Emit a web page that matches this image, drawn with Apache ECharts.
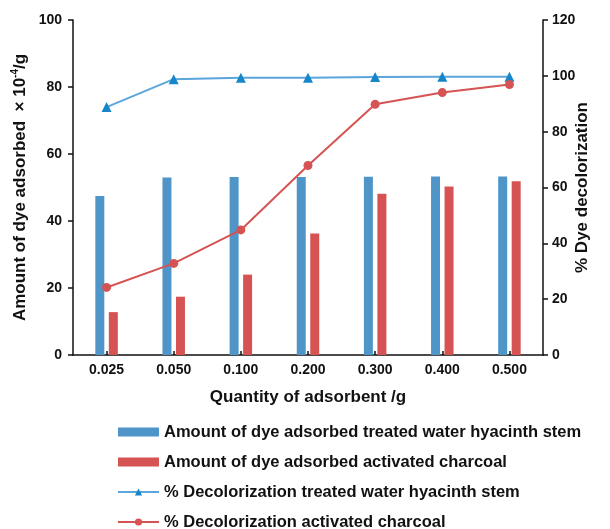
<!DOCTYPE html>
<html>
<head>
<meta charset="utf-8">
<script src="https://cdn.jsdelivr.net/npm/echarts@6/dist/echarts.min.js"></script>
<style>
    html, body { margin: 0; padding: 0; background: #fff; }
    #chart { width: 610px; height: 529px; }
</style>
</head>
<body>
<div id="chart"></div>
<script>
    // adsorbent quantity (g)
    var categories = ['0.025', '0.050', '0.100', '0.200', '0.300', '0.400', '0.500'];
    // amount of dye adsorbed, x 10^-4 /g
    var adsorbedStem = [47.5, 53.0, 53.1, 53.1, 53.2, 53.3, 53.3];
    var adsorbedCharcoal = [12.8, 17.4, 24.0, 36.3, 48.1, 50.3, 51.9];
    // % decolorization
    var decolorStem = [88.8, 98.8, 99.3, 99.3, 99.6, 99.7, 99.7];
    var decolorCharcoal = [24.2, 32.8, 44.8, 67.9, 89.8, 94.0, 96.9];

    var font = 'Liberation Sans, Arial, sans-serif';
    var labelStyle = { color: '#111', fontWeight: 'bold', fontSize: 14, fontFamily: font };
    var nameStyle = { color: '#111', fontWeight: 'bold', fontSize: 17, fontFamily: font };
    var axisLine = { show: true, lineStyle: { color: '#111', width: 1.5 } };
    var outTick = { show: true, inside: false, length: 5, lineStyle: { color: '#111', width: 1.5 } };

    var chart = echarts.init(document.getElementById('chart'));
    chart.setOption({
        animation: false,
        grid: {
            left: 73,
            right: 67,
            top: 20,
            bottom: 174
        },
        legend: {
            orient: 'vertical',
            left: 117,
            top: 423,
            height: 150,
            padding: 0,
            itemWidth: 41,
            itemHeight: 9,
            itemGap: 12,
            textStyle: { color: '#111', fontWeight: 'bold', fontSize: 16.5, fontFamily: font, lineHeight: 18 },
            data: [
                { name: 'Amount of dye adsorbed treated water hyacinth stem', icon: 'rect' },
                { name: 'Amount of dye adsorbed activated charcoal', icon: 'rect' },
                '% Decolorization treated water hyacinth stem',
                '% Decolorization activated charcoal'
            ]
        },
        xAxis: {
            type: 'category',
            data: categories,
            boundaryGap: true,
            name: 'Quantity of adsorbent /g',
            nameLocation: 'middle',
            nameGap: 34,
            nameMoveOverlap: false,
            nameTextStyle: nameStyle,
            axisLine: axisLine,
            axisTick: { show: true, inside: true, alignWithLabel: true, length: 4, lineStyle: { color: '#111', width: 1.5 } },
            axisLabel: Object.assign({ margin: 8 }, labelStyle),
            splitLine: { show: false }
        },
        yAxis: [
            {
                type: 'value',
                min: 0,
                max: 100,
                interval: 20,
                name: '{n|Amount of dye adsorbed  × 10}{s|-4}{n|/g}',
                nameLocation: 'middle',
                nameRotate: 90,
                nameGap: 42,
                nameMoveOverlap: false,
                nameTextStyle: {
                    rich: {
                        n: Object.assign({ lineHeight: 22 }, nameStyle),
                        s: { color: '#111', fontWeight: 'bold', fontSize: 10, fontFamily: font, lineHeight: 22, padding: [0, 0, 9, 0] }
                    }
                },
                axisLine: axisLine,
                axisTick: outTick,
                axisLabel: Object.assign({ margin: 11 }, labelStyle),
                splitLine: { show: false }
            },
            {
                type: 'value',
                min: 0,
                max: 120,
                interval: 20,
                position: 'right',
                name: '% Dye decolorization',
                nameLocation: 'middle',
                nameRotate: 90,
                nameGap: 31,
                nameMoveOverlap: false,
                nameTextStyle: nameStyle,
                axisLine: axisLine,
                axisTick: outTick,
                axisLabel: Object.assign({ margin: 9 }, labelStyle),
                splitLine: { show: false }
            }
        ],
        series: [
            {
                name: 'Amount of dye adsorbed treated water hyacinth stem',
                type: 'bar',
                yAxisIndex: 0,
                data: adsorbedStem,
                barWidth: 9,
                barGap: '50%',
                itemStyle: { color: '#4f95c8' }
            },
            {
                name: 'Amount of dye adsorbed activated charcoal',
                type: 'bar',
                yAxisIndex: 0,
                data: adsorbedCharcoal,
                barWidth: 9,
                barGap: '50%',
                itemStyle: { color: '#d65353' }
            },
            {
                name: '% Decolorization treated water hyacinth stem',
                type: 'line',
                yAxisIndex: 1,
                data: decolorStem,
                symbol: 'triangle',
                symbolSize: 10,
                lineStyle: { color: '#5aa6dd', width: 2 },
                itemStyle: { color: '#1786c9' }
            },
            {
                name: '% Decolorization activated charcoal',
                type: 'line',
                yAxisIndex: 1,
                data: decolorCharcoal,
                symbol: 'circle',
                symbolSize: 9,
                lineStyle: { color: '#d65353', width: 2 },
                itemStyle: { color: '#d65353' }
            }
        ]
    });
</script>
</body>
</html>
